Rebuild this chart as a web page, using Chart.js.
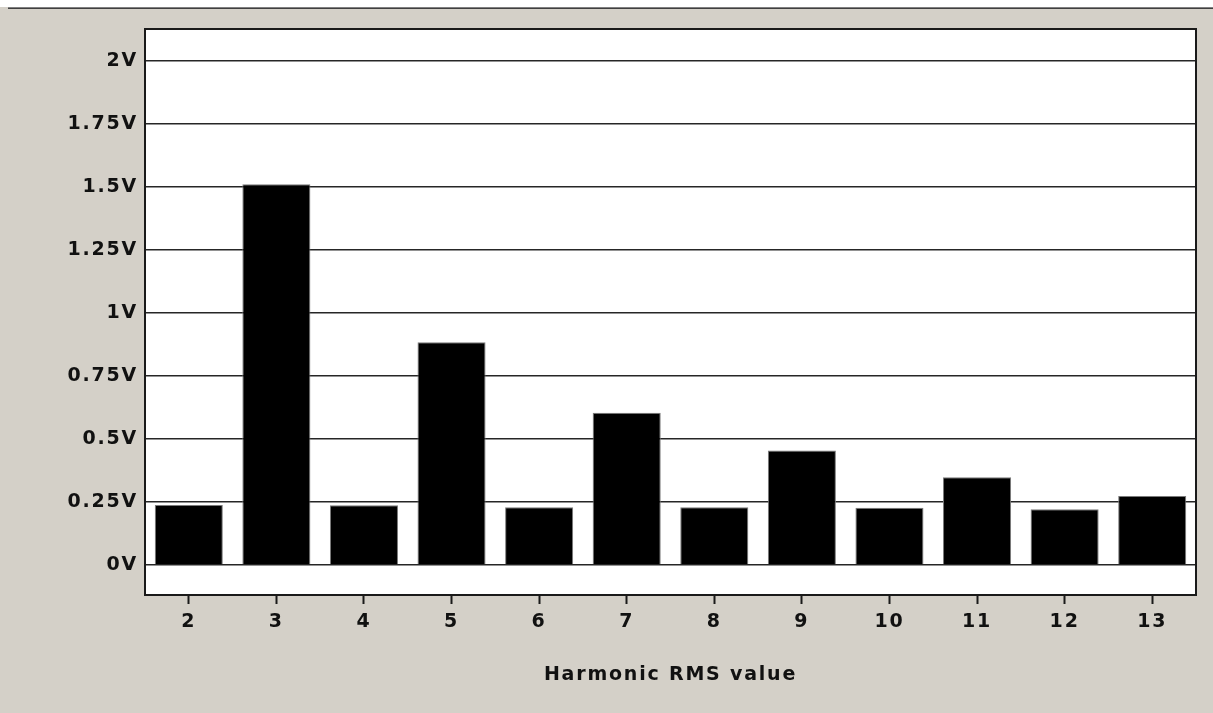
<!DOCTYPE html>
<html>
<head>
<meta charset="utf-8">
<script src="https://cdn.jsdelivr.net/npm/chart.js@4.4.1/dist/chart.umd.min.js"></script>
<style>
  html, body { margin: 0; padding: 0; background: #D4D0C8; overflow: hidden; }
  #wrap { position: relative; width: 1213px; height: 713px; }
  #topstrip { position: absolute; left: 0; top: 0; width: 1213px; height: 7px; background: #ffffff; }
  #topline { position: absolute; left: 8px; top: 7px; width: 1205px; height: 1px; background: #808080; border-bottom: 1px solid #404040; }
  canvas { position: absolute; left: 0; top: 0; }
</style>
</head>
<body>
<div id="wrap">
  <div id="topstrip"></div>
  <div id="topline"></div>
  <canvas id="c" width="1213" height="713"></canvas>
</div>
<script>
// Harmonic orders on the x axis
const harmonics = ['2', '3', '4', '5', '6', '7', '8', '9', '10', '11', '12', '13'];
// RMS voltage of each harmonic (V)
const rmsVolts = [0.238, 1.511, 0.237, 0.884, 0.229, 0.604, 0.229, 0.454, 0.227, 0.348, 0.221, 0.274];
// Voltage gridline / tick positions
const voltTicks = [0, 0.25, 0.5, 0.75, 1, 1.25, 1.5, 1.75, 2];
const xAxisTitle = 'Harmonic RMS value';

const FONT_FAMILY = '"DejaVu Sans", "Liberation Sans", sans-serif';
const FONT_SIZE = 19;
const LETTER_SPACING = '1.8px';

// Widen glyph spacing to imitate the classic stretched bitmap font
const spacingPlugin = {
  id: 'spacing',
  beforeDraw(chart) { chart.ctx.letterSpacing = LETTER_SPACING; }
};

// White plotting panel with a dark frame
const framePlugin = {
  id: 'frame',
  beforeDraw(chart) {
    const { ctx, chartArea: a } = chart;
    ctx.save();
    ctx.fillStyle = '#ffffff';
    ctx.fillRect(a.left, a.top, a.right - a.left, a.bottom - a.top);
    ctx.restore();
  },
  afterDraw(chart) {
    const { ctx, chartArea: a } = chart;
    ctx.save();
    ctx.strokeStyle = '#1a1a1a';
    ctx.lineWidth = 2;
    ctx.strokeRect(a.left, a.top, a.right - a.left, a.bottom - a.top);
    ctx.restore();
  }
};

new Chart(document.getElementById('c'), {
  type: 'bar',
  data: {
    labels: harmonics,
    datasets: [{
      data: rmsVolts,
      backgroundColor: '#000000',
      borderColor: '#7a7a7a',
      borderWidth: 1,
      barPercentage: 0.777,
      categoryPercentage: 1.0
    }]
  },
  options: {
    responsive: false,
    animation: false,
    devicePixelRatio: 1,
    layout: { padding: { left: 0, right: 17, top: 29, bottom: 0 } },
    plugins: { legend: { display: false }, tooltip: { enabled: false } },
    scales: {
      x: {
        offset: true,
        grid: {
          offset: false,
          drawOnChartArea: false,
          drawTicks: true,
          tickLength: 9,
          tickWidth: 2,
          tickColor: '#1a1a1a'
        },
        border: { display: false },
        ticks: {
          color: '#111111',
          padding: 7,
          maxRotation: 0,
          font: { family: FONT_FAMILY, size: FONT_SIZE, weight: 'bold' }
        },
        title: {
          display: true,
          text: xAxisTitle,
          color: '#111111',
          padding: { top: 0, bottom: 27 },
          font: { family: FONT_FAMILY, size: FONT_SIZE, weight: 'bold' }
        },
        afterFit(scale) { scale.height = 118; }
      },
      y: {
        min: -0.119,
        max: 2.127,
        afterBuildTicks(scale) { scale.ticks = voltTicks.map(v => ({ value: v })); },
        grid: {
          color: '#262626',
          lineWidth: 1.6,
          drawTicks: false
        },
        border: { display: false },
        ticks: {
          color: '#111111',
          padding: 7,
          font: { family: FONT_FAMILY, size: FONT_SIZE, weight: 'bold' },
          callback: (v) => v + 'V'
        },
        afterFit(scale) { scale.width = 145; }
      }
    }
  },
  plugins: [framePlugin, spacingPlugin]
});
</script>
</body>
</html>
